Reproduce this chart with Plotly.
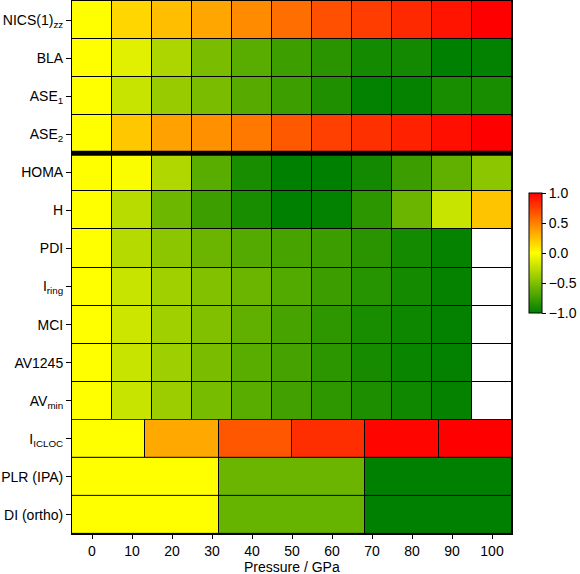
import numpy as np
import plotly.graph_objects as go

pressures = [0, 10, 20, 30, 40, 50, 60, 70, 80, 90, 100]

row_labels = ["NICS(1)<sub>zz</sub>", "BLA", "ASE<sub>1</sub>", "ASE<sub>2</sub>", "HOMA", "H",
              "PDI", "I<sub>ring</sub>", "MCI", "AV1245", "AV<sub>min</sub>",
              "I<sub>ICLOC</sub>", "PLR (IPA)", "DI (ortho)"]

nics = [0, 0.16, 0.25, 0.35, 0.45, 0.57, 0.69, 0.76, 0.84, 0.92, 1.0]
bla = [0, -0.12, -0.32, -0.52, -0.65, -0.76, -0.84, -0.92, -0.93, -1.0, -0.99]
ase1 = [0, -0.22, -0.40, -0.52, -0.66, -0.76, -0.88, -0.99, -0.98, -0.90, -0.90]
ase2 = [0, 0.22, 0.37, 0.43, 0.53, 0.65, 0.75, 0.81, 0.87, 0.94, 1.0]
homa = [0, -0.02, -0.31, -0.65, -0.90, -1.0, -1.0, -0.93, -0.77, -0.62, -0.45]
h = [0, -0.28, -0.57, -0.76, -0.90, -1.0, -0.99, -0.83, -0.58, -0.22, 0.23]
pdi = [0, -0.29, -0.45, -0.58, -0.67, -0.72, -0.77, -0.84, -0.92, -0.98, None]
iring = [0, -0.22, -0.37, -0.49, -0.58, -0.68, -0.77, -0.85, -0.92, -0.98, None]
mci = [0, -0.20, -0.37, -0.50, -0.62, -0.72, -0.82, -0.90, -0.95, -0.99, None]
av1245 = [0, -0.22, -0.38, -0.52, -0.65, -0.73, -0.83, -0.91, -0.96, -0.99, None]
avmin = [0, -0.22, -0.39, -0.53, -0.65, -0.74, -0.82, -0.89, -0.94, -0.98, None]

iicloc = [0, 0.34, 0.66, 0.82, 0.98, 1.0]
plr = [0, -0.58, -1.0]
di = [0, -0.60, -1.0]

grid = [nics, bla, ase1, ase2, homa, h, pdi, iring, mci, av1245, avmin]

x_lo, x_hi = -5, 105
edges11 = list(np.array(pressures) - 5) + [pressures[-1] + 5]
edges6 = np.linspace(x_lo, x_hi, len(iicloc) + 1)
edges3 = np.linspace(x_lo, x_hi, len(plr) + 1)

z_grid = [[np.nan if v is None else v for v in row] for row in grid]
z_missing = [[1 if v is None else np.nan for v in row] for row in grid]
n_grid = len(grid)
y_grid = list(np.arange(n_grid + 1) - 0.5)

fig = go.Figure()
common = dict(xgap=1, ygap=1, hoverongaps=False)

fig.add_trace(go.Heatmap(z=z_grid, x=edges11, y=y_grid, coloraxis="coloraxis", **common))
fig.add_trace(go.Heatmap(z=z_missing, x=edges11, y=y_grid, colorscale=[[0, "white"], [1, "white"]],
                         showscale=False, **common))
fig.add_trace(go.Heatmap(z=[iicloc], x=edges6, y=[n_grid - 0.5, n_grid + 0.5],
                         coloraxis="coloraxis", **common))
fig.add_trace(go.Heatmap(z=[plr, di], x=edges3, y=[n_grid + 0.5, n_grid + 1.5, n_grid + 2.5],
                         coloraxis="coloraxis", **common))

# thick separator between ASE2 and HOMA
fig.add_shape(type="line", x0=x_lo, x1=x_hi, y0=3.5, y1=3.5, line=dict(color="black", width=5))

font = dict(family="Liberation Sans, Arial, sans-serif", size=14, color="black")

fig.update_layout(
    width=580, height=574,
    margin=dict(l=72, r=68, t=1, b=40, autoexpand=False),
    paper_bgcolor="white", plot_bgcolor="black",
    font=font,
    coloraxis=dict(
        colorscale=[[0, "#008000"], [0.5, "#FFFF00"], [1, "#FF0000"]],
        cmin=-1, cmax=1,
        colorbar=dict(
            x=1.038, xanchor="left", y=0.527, yanchor="middle", xpad=0, ypad=0,
            len=120, lenmode="pixels", thickness=13,
            outlinewidth=1, outlinecolor="black",
            ticks="outside", ticklen=4, tickcolor="black",
            tickvals=[-1, -0.5, 0, 0.5, 1],
            ticktext=["\u22121.0", "\u22120.5", "0.0", "0.5", "1.0"],
            tickfont=font,
        ),
    ),
    xaxis=dict(
        range=[x_lo, x_hi], tickvals=pressures, ticks="outside", ticklen=4, tickcolor="black",
        showgrid=False, zeroline=False, showline=True, linecolor="black", linewidth=1, mirror=True,
        automargin=False,
    ),
    yaxis=dict(
        range=[len(row_labels) - 0.5, -0.5], tickvals=list(range(len(row_labels))), ticktext=row_labels,
        ticks="outside", ticklen=5, tickcolor="black", automargin=False,
        showgrid=False, zeroline=False, showline=True, linecolor="black", linewidth=1, mirror=True,
    ),
)

fig.add_annotation(text="Pressure / GPa", xref="x", yref="paper", x=50, y=-0.0625,
                   yanchor="middle", showarrow=False, font=font)

fig.write_html("out.html", config={"displayModeBar": False},
               post_script="document.body.style.margin='0';")
